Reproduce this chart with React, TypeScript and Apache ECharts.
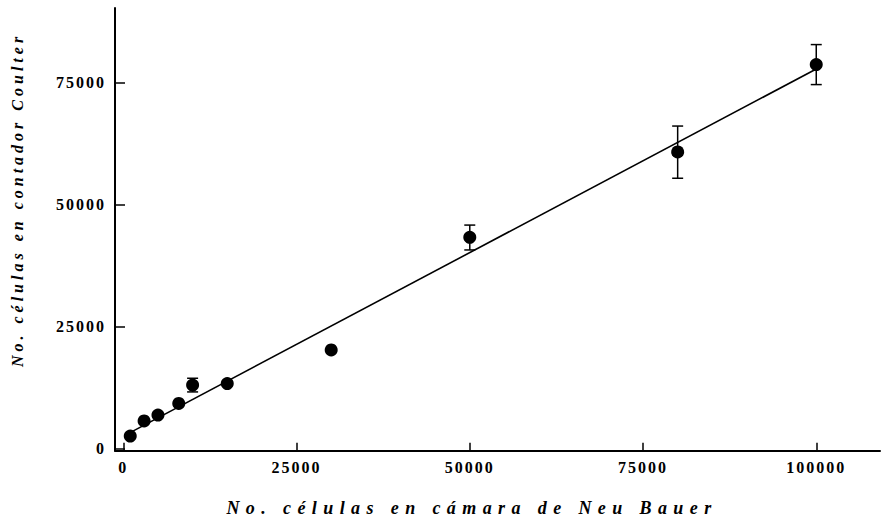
import React, { useEffect, useRef } from "react";
import * as echarts from "echarts";

// Cell counts: Neubauer chamber (x) vs. Coulter counter (y)
const cellsNeubauer = [1000, 3000, 5000, 8000, 10000, 15000, 30000, 50000, 80000, 100000];
const cellsCoulter = [2550, 5650, 6850, 9250, 13000, 13300, 20200, 43300, 60800, 78700];

// Error bars (x position, lower and upper limits)
const errX = [10000, 50000, 80000, 100000];
const errLow = [11600, 40700, 55400, 74600];
const errHigh = [14400, 45800, 66100, 82800];

// Fitted regression line end points
const fitX = [500, 100000];
const fitY = [2900, 77800];

const xTicks = [0, 25000, 50000, 75000, 100000];
const yTicks = [0, 25000, 50000, 75000];

const xTitle = "No. células en cámara de Neu Bauer";
const yTitle = "No. células en contador Coulter";

const SERIF = '"Liberation Serif", "Times New Roman", serif';

// widen the letter spacing of the typeset labels
function spaceLetters(root: HTMLElement) {
  root.querySelectorAll("text").forEach((t) => {
    const s = (t.textContent || "").trim();
    if (s === xTitle) t.style.letterSpacing = "6.4px";
    else if (s === yTitle) t.style.letterSpacing = "4px";
    else if (/^\d+$/.test(s)) t.style.letterSpacing = "2px";
  });
}

export default function App() {
  const ref = useRef<HTMLDivElement>(null);

  useEffect(() => {
    const el = ref.current!;
    const chart = echarts.init(el, null, { renderer: "svg" });

    const axisLine = { show: true, onZero: false, lineStyle: { color: "#000", width: 2 } };
    const labelStyle = {
      color: "#000",
      fontFamily: SERIF,
      fontWeight: "bold" as const,
      fontSize: 16,
      formatter: (v: number) => String(v),
    };

    chart.setOption({
      animation: false,
      backgroundColor: "#fff",
      grid: { left: 115, top: 8, right: 1, bottom: 68.3, containLabel: false },
      xAxis: {
        type: "value",
        min: -1200,
        max: 109200,
        axisLine,
        splitLine: { show: false },
        axisTick: {
          show: true,
          inside: true,
          length: 8,
          customValues: xTicks,
          lineStyle: { color: "#000", width: 1.5 },
        },
        axisLabel: { ...labelStyle, margin: 9, customValues: xTicks },
      },
      yAxis: {
        type: "value",
        min: -450,
        max: 90300,
        axisLine,
        splitLine: { show: false },
        axisTick: {
          show: true,
          inside: true,
          length: 10,
          customValues: yTicks,
          lineStyle: { color: "#000", width: 1.5 },
        },
        axisLabel: { ...labelStyle, margin: 9, customValues: yTicks },
      },
      graphic: [
        {
          type: "text",
          x: 472,
          y: 508,
          style: {
            text: xTitle,
            fill: "#000",
            font: `italic bold 18px ${SERIF}`,
            align: "center",
            verticalAlign: "middle",
          },
        },
        {
          type: "text",
          x: 17,
          y: 200,
          rotation: Math.PI / 2,
          style: {
            text: yTitle,
            fill: "#000",
            font: `italic bold 16px ${SERIF}`,
            align: "center",
            verticalAlign: "middle",
          },
        },
      ],
      series: [
        {
          type: "line",
          data: fitX.map((x, i) => [x, fitY[i]]),
          symbol: "none",
          lineStyle: { color: "#000", width: 1.6 },
          z: 2,
          silent: true,
        },
        {
          type: "custom",
          data: errX.map((x, i) => [x, errLow[i], errHigh[i]]),
          encode: { x: 0, y: [1, 2] },
          z: 3,
          silent: true,
          renderItem: (_params: any, api: any) => {
            const x = api.value(0);
            const top = api.coord([x, api.value(2)]);
            const bot = api.coord([x, api.value(1)]);
            const hw = 5.5;
            const style = { stroke: "#000", lineWidth: 1.5, fill: "none" };
            return {
              type: "group",
              children: [
                { type: "line", shape: { x1: top[0], y1: top[1], x2: bot[0], y2: bot[1] }, style },
                { type: "line", shape: { x1: top[0] - hw, y1: top[1], x2: top[0] + hw, y2: top[1] }, style },
                { type: "line", shape: { x1: bot[0] - hw, y1: bot[1], x2: bot[0] + hw, y2: bot[1] }, style },
              ],
            };
          },
        },
        {
          type: "scatter",
          data: cellsNeubauer.map((x, i) => [x, cellsCoulter[i]]),
          symbol: "circle",
          symbolSize: 13,
          itemStyle: { color: "#000", opacity: 1 },
          z: 4,
          silent: true,
        },
      ],
    });

    chart.getZr().flush();
    spaceLetters(el);
    const onFinished = () => spaceLetters(el);
    chart.on("finished", onFinished);

    return () => {
      chart.off("finished", onFinished);
      chart.dispose();
    };
  }, []);

  return (
    <div
      ref={ref}
      style={{ position: "fixed", left: 0, top: 0, width: 881, height: 519, background: "#fff" }}
    />
  );
}
